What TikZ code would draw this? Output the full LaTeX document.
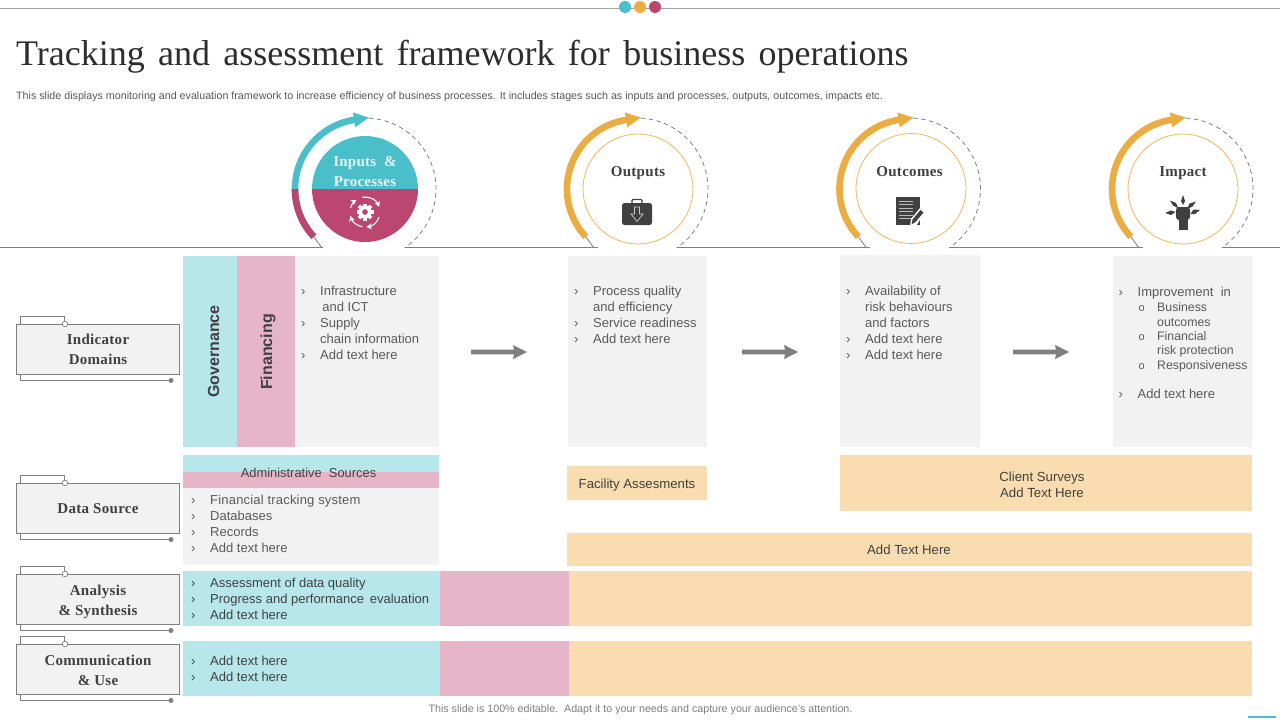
\documentclass[tikz,border=0pt]{standalone}
\usepackage{fontspec}
\setmainfont{Liberation Serif}
\setsansfont{Liberation Sans}
\usetikzlibrary{calc,arrows.meta}
\definecolor{tealL}{HTML}{B7E7EB}
\definecolor{pinkL}{HTML}{E6B5C8}
\definecolor{orangeL}{HTML}{F9DDB0}
\definecolor{greyL}{HTML}{F2F2F2}
\definecolor{ringT}{HTML}{4ABFCA}
\definecolor{ringM}{HTML}{BB4670}
\definecolor{gold}{HTML}{EBAC42}
\definecolor{ink}{HTML}{404040}
\definecolor{body}{HTML}{595959}
\definecolor{edge}{HTML}{7F7F7F}
\newcommand{\fsz}[1]{\fontsize{#1}{#1}\selectfont}
\newcommand{\fszl}[2]{\fontsize{#1}{#2}\selectfont}
\newcommand{\bu}{\makebox[19pt][l]{›}}
\newcommand{\sbu}{\makebox[19pt][l]{\hspace{0.5pt}\fsz{11}o}}
\newcommand{\ringfig}[4]{% name, cx, cy, colour
  \coordinate (#1) at (#2,#3);
  \draw[#4,line width=6.6pt] ([shift={(223:70)}]#1) arc[start angle=223,end angle=98,radius=70];
  \fill[#4] ([shift={(99:62.5)}]#1) -- ([shift={(87:71.5)}]#1) -- ([shift={(99:77.5)}]#1) -- cycle;
  \draw[edge,line width=.8pt,dash pattern=on 4.5pt off 3.5pt] ([shift={(87:71)}]#1) arc[start angle=87,end angle=-56,radius=71];
  \draw[edge,line width=.8pt] ([shift={(223:70)}]#1) -- ([shift={(234:73)}]#1);
}
\newcommand{\sidebox}[5]{% name, top, bottom, label offset, text
  \node[sidebox,minimum height=#3pt-#2pt] (#1) at (98,-#2/2-#3/2) {};
  \node[sidelabel] (#1t) at (98,-#2/2-#3/2-#4) {#5};
  \draw[edge,line width=.9pt] (20,-#2) -- (20,-#2+8) -- (64,-#2+8) -- (64,-#2);
  \draw[edge,line width=.9pt] (20,-#3) -- (20,-#3-6.5) -- (171,-#3-6.5);
  \fill[edge] (171,-#3-6.5) circle (2.5);
  \draw[edge,fill=white,line width=.7pt] (65,-#2) circle (2.8);
}
\tikzset{
  sidebox/.style={draw=edge,fill=greyL,line width=.9pt,minimum width=163pt,inner sep=0},
  sidelabel/.style={inner sep=0,align=center,text=ink,font=\bfseries\fsz{15}\addfontfeature{LetterSpace=2}},
  txt/.style={anchor=north west,inner sep=0,align=left,text=body,font=\sffamily\fszl{13}{16}},
  ctr/.style={inner sep=0,align=center,text=ink,font=\sffamily\fszl{13.2}{16}},
  ttl/.style={inner sep=0,anchor=base,text=ink,font=\bfseries\fsz{15}\addfontfeature{LetterSpace=2}},
  goldring/.style={draw=gold!85!white,line width=.8pt}
}
\newcommand{\bigarrow}[3]{\fill[edge] (#1,-#3+2.3) -- (#2-13,-#3+2.3) -- (#2-14,-#3+7) -- (#2,-#3) -- (#2-14,-#3-7) -- (#2-13,-#3-2.3) -- (#1,-#3-2.3) -- cycle;}
\newcommand{\rect}[5]{\fill[#1] (#2,-#3) rectangle (#4,-#5);}
\begin{document}
\begin{tikzpicture}[x=1pt,y=1pt]
\useasboundingbox (0,-720) rectangle (1280,0);
\fill[white] (0,-720) rectangle (1280,0);
% top rule and dots
\draw[edge!70,line width=.8pt] (0,-8) -- (1280,-8);
\fill[ringT] (625,-7) circle (6);
\fill[gold] (640,-7) circle (6);
\fill[ringM] (655,-7) circle (6);
% title
\node[anchor=west,inner sep=0,text=ink!70!black,font=\fsz{36}] (title) at (16,-57) {\spaceskip=13.3pt Tracking and assessment framework for business operations};
\node[anchor=west,inner sep=0,text=body,font=\sffamily\fsz{10.7}] (sub) at (16,-96.5) {This slide displays monitoring and evaluation framework to increase efficiency of business processes. It includes stages such as inputs and processes, outputs, outcomes, impacts etc.};
% baseline rule
\draw[edge,line width=.9pt] (0,-247) -- (323,-247) (405,-247) -- (598,-247) (677,-247) -- (870,-247) (950,-247) -- (1143,-247) (1223,-247) -- (1280,-247);
% rings
\ringfig{c1}{365}{-189}{ringT}
\draw[ringM,line width=6.6pt] ([shift={(223:70)}]c1) arc[start angle=223,end angle=180,radius=70];
\ringfig{c2}{637}{-189}{gold}
\ringfig{c3}{909.5}{-189}{gold}
\ringfig{c4}{1182}{-189}{gold}
% inputs disc
\fill[ringT] (312,-189) arc[start angle=180,end angle=0,radius=53] -- cycle;
\fill[ringM] (312,-189) arc[start angle=180,end angle=360,radius=53] -- cycle;
\node[inner sep=0,align=center,text=white!88!ringT,font=\bfseries\fsz{15}\addfontfeature{LetterSpace=1.5}] (t1) at (365,-172) {Inputs \ \&\\[5pt]Processes};
% gear icon
\begin{scope}[shift={(365,-212)}]
  \foreach \a in {0,45,...,315}{\fill[white,rotate=\a] (-1.8,5) rectangle (1.8,8.5);}
  \fill[white,even odd rule] (0,0) circle (6.5) (0,0) circle (3);
  \draw[white,line width=1.1pt,-{Stealth[length=5.5pt,width=6pt]}] (100:15) arc[start angle=100,end angle=20,radius=15];
  \draw[white,line width=1.1pt,-{Stealth[length=5.5pt,width=6pt]}] (-20:15) arc[start angle=-20,end angle=-85,radius=15];
  \draw[white,line width=1.1pt,-{Stealth[length=5.5pt,width=6pt]}] (-100:15) arc[start angle=-100,end angle=-165,radius=15];
  \draw[white,line width=1.1pt,-{Stealth[length=5.5pt,width=6pt]}] (165:15) arc[start angle=165,end angle=125,radius=15];
\end{scope}
% other discs
\draw[goldring] (638,-189) circle (55);
\draw[goldring] (911,-188.5) circle (55);
\draw[goldring] (1183,-189) circle (55);
\node[ttl] (t2) at (638,-176) {Outputs};
\node[ttl] (t3) at (909.5,-176) {Outcomes};
\node[ttl] (t4) at (1183,-176) {Impact};
% briefcase
\fill[ink,rounded corners=2.5pt] (622,-203) rectangle (652,-225);
\draw[ink,line width=1.4pt,rounded corners=1pt] (632,-203) -- (632,-199.5) -- (642,-199.5) -- (642,-203);
\draw[white!75!ink,line width=.7pt] (634.5,-207) -- (639.5,-207) -- (639.5,-214) -- (643,-214) -- (637,-221.5) -- (631,-214) -- (634.5,-214) -- cycle;
% document
\fill[ink] (896,-197) rectangle (920,-225);
\foreach \y in {201,204.5,208,211.5,215,218.5}{\draw[white!65!ink,line width=1pt] (899,-\y) -- (913,-\y);}
\fill[white] (910,-226) -- (911,-219) -- (920,-208) -- (925,-212) -- (916,-226) -- cycle;
\fill[ink] (911.5,-224.5) -- (912.5,-219.5) -- (920.5,-210) -- (923.5,-212.5) -- (915.5,-222) -- cycle;
% fist
\fill[ink] (1178.5,-230) -- (1178.5,-217) -- (1187.5,-217) -- (1187.5,-230) -- cycle;
\fill[ink,rounded corners=3pt] (1176,-207) rectangle (1190,-220);
\fill[ink] (1183,-195) -- (1185,-201) -- (1183,-205) -- (1181,-201) -- cycle;
\fill[ink] (1170,-200.5) -- (1176,-203) -- (1178.5,-208.5) -- (1173,-205.5) -- cycle;
\fill[ink] (1196,-201.5) -- (1192.5,-206.5) -- (1187,-209) -- (1189.5,-203.5) -- cycle;
\fill[ink] (1165,-213) -- (1171,-210.5) -- (1175.5,-212) -- (1171,-215) -- cycle;
\fill[ink] (1200,-210) -- (1195,-214) -- (1190.5,-214) -- (1193.5,-209.5) -- cycle;
% indicator panels
\rect{tealL}{183}{256}{237}{447}
\rect{pinkL}{237}{256}{295}{447}
\rect{greyL}{295}{256}{439}{447}
\rect{greyL}{568}{256}{707}{447}
\rect{greyL}{840}{255}{980}{447}
\rect{greyL}{1113}{256}{1252}{447}
\node[rotate=90,inner sep=0,text=ink,font=\sffamily\bfseries\fsz{16}] (gov) at (213.5,-351.5) {Governance};
\node[rotate=90,inner sep=0,text=ink,font=\sffamily\bfseries\fsz{16}] (fin) at (268,-352) {Financing};
\bigarrow{471}{527}{352}
\bigarrow{742}{798}{352}
\bigarrow{1013}{1069}{352}
\node[txt] (b1) at (301,-285.5) {\bu Infrastructure\\\hspace*{19pt}\,and ICT\\\bu Supply\\\hspace*{19pt}chain information\\\bu Add text here};
\node[txt] (b2) at (574,-285.5) {\bu Process quality\\\hspace*{19pt}and efficiency\\\bu Service readiness\\\bu Add text here};
\node[txt] (b3) at (846,-285.5) {\bu Availability of\\\hspace*{19pt}risk behaviours\\\hspace*{19pt}and factors\\\bu Add text here\\\bu Add text here};
\node[txt] (b4) at (1118.5,-286.5) {\bu Improvement\ \ in};
\node[txt,font=\sffamily\fszl{12.3}{14.4}] (b4a) at (1138,-302.5) {\sbu Business\\\hspace*{19pt}outcomes\\\sbu Financial\\\hspace*{19pt}risk protection\\\sbu Responsiveness};
\node[txt] (b4b) at (1118.5,-388.5) {\bu Add text here};
% data source
\rect{tealL}{183}{455}{439}{472}
\rect{pinkL}{183}{472}{439}{488}
\rect{greyL}{183}{488}{439}{565}
\node[ctr,font=\sffamily\fsz{12.9}] (admin) at (308.5,-472.5) {Administrative\ \ Sources};
\node[txt] (b5) at (191,-494.5) {\bu {\addfontfeature{LetterSpace=1.5}Financial tracking system}\\\bu Databases\\\bu Records\\\bu Add text here};
\rect{orangeL}{567}{466}{707}{500}
\rect{orangeL}{840}{455}{1252}{511}
\rect{orangeL}{567}{533}{1252}{566}
\node[ctr] (fac) at (637,-485) {Facility Assesments};
\node[ctr] (cli) at (1042,-485) {Client Surveys\\Add Text Here};
\node[ctr] (addt) at (909,-550) {Add Text Here};
% analysis
\rect{tealL}{183}{571}{440}{626}
\rect{pinkL}{440}{571}{569}{626}
\rect{orangeL}{569}{571}{1252}{626}
\node[txt,text=ink] (b6) at (191,-577.5) {\bu Assessment of data quality\\\bu Progress and performance\ \,evaluation\\\bu Add text here};
% communication
\rect{tealL}{183}{641}{440}{696}
\rect{pinkL}{440}{641}{569}{696}
\rect{orangeL}{569}{641}{1252}{696}
\node[txt,text=ink] (b7) at (191,-655.5) {\bu Add text here\\\bu Add text here};
% side boxes
\sidebox{s1}{324}{374}{0}{Indicator\\[5pt]Domains}
\sidebox{s2}{483}{533}{1}{Data Source}
\sidebox{s3}{574}{624}{3}{Analysis\\[5pt]\& Synthesis}
\sidebox{s4}{644}{694}{1}{Communication\\[5pt]\& Use}
% footer
\node[inner sep=0,text=edge,font=\sffamily\fsz{10.7}] (foot) at (640.5,-710) {This slide is 100\% editable.\ \ Adapt it to your needs and capture your audience's attention.};
\draw[ringT,line width=2pt] (1248,-717) -- (1276,-717);
\end{tikzpicture}
\end{document}
